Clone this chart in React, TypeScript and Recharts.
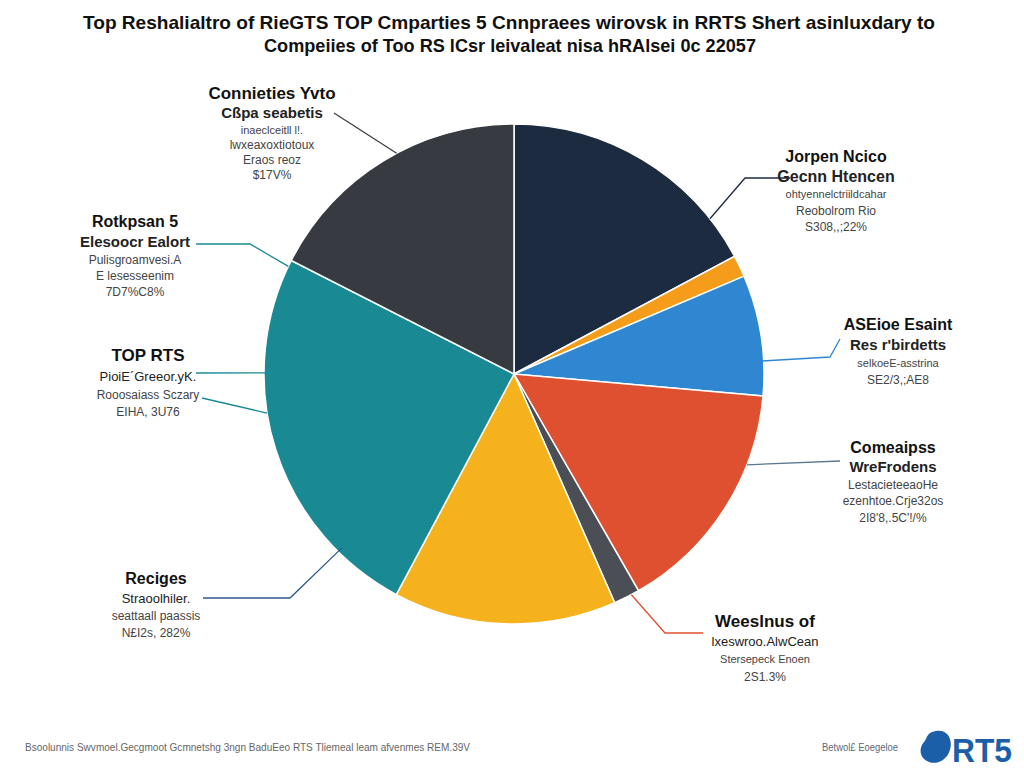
import React from "react";
import { PieChart, Pie, Cell } from "recharts";

// ---- data ----
const categories = [
  "Jorpen Ncico",
  "Orange",
  "ASEioe Esaint",
  "Comeaipss",
  "Weeslnus of",
  "Reciges",
  "TOP RTS",
  "Connieties Yvto",
];
const shares = [17.2, 1.4, 7.8, 15.3, 1.7, 14.4, 24.7, 17.5];
const colors = ["#1c2b40", "#f59c1a", "#2f86d1", "#df5030", "#4b4f55", "#f6b21c", "#198a93", "#373b41"];

const titleLines = [
  "Top Reshalialtro of RieGTS TOP Cmparties 5 Cnnpraees wirovsk in RRTS Shert asinluxdary to",
  "Compeiies of Too RS lCsr leivaleat nisa hRAlsei 0c 22057",
];
const footerLeft = "Bsoolunnis Swvmoel.Gecgmoot Gcmnetshg 3ngn BaduEeo RTS Tliemeal leam afvenmes REM.39V";
const footerRight = "Betwol£ Eoegeloe";

// annotation texts: [title, subtitle, ...small lines]
const annoTexts: Record<string, string[]> = {
  connieties: ["Connieties Yvto", "Cßpa seabetis", "inaeclceitll l!.", "lwxeaxoxtiotoux", "Eraos reoz", "$17V%"],
  jorpen: ["Jorpen Ncico", "Gecnn Htencen", "ohtyennelctriildcahar", "Reobolrom Rio", "S308,,;22%"],
  aseioe: ["ASEioe Esaint", "Res r'birdetts", "selkoeE-asstrina", "SE2/3,;AE8"],
  comeaipss: ["Comeaipss", "WreFrodens", "LestacieteeaoHe", "ezenhtoe.Crje32os", "2I8'8,.5C'!/%"],
  weeslnus: ["Weeslnus of", "lxeswroo.AlwCean", "Stersepeck Enoen", "2S1.3%"],
  reciges: ["Reciges", "Straoolhiler.", "seattaall paassis", "N£I2s, 282%"],
  toprts: ["TOP RTS", "PioiE´Greeor.yK.", "Rooosaiass Sczary", "EIHA, 3U76"],
  rotkpsan: ["Rotkpsan 5", "Elesoocr Ealort", "Pulisgroamvesi.A", "E lesesseenim", "7D7%C8%"],
};

// ---- layout (positions of annotation blocks & leader lines) ----
type Anno = {
  key: string;
  x: number;
  y: number;
  gaps: number[];
  sizes: number[];
  path: [number, number][];
  angle: number;
  rf: number;
  stroke: string;
};
const annoLayout: Record<number, Anno[]> = {
  7: [
    { key: "connieties", x: 272, y: 99, gaps: [0, 19, 16, 15, 15, 15], sizes: [17, 15, 11, 12, 12, 12], path: [[334, 113]], angle: 118, rf: 1.0, stroke: "#3b3f45" },
  ],
  0: [
    { key: "jorpen", x: 836, y: 162, gaps: [0, 20, 16, 17, 16], sizes: [16, 16, 11, 12, 12], path: [[790, 178], [745, 178]], angle: 38.4, rf: 1.0, stroke: "#1c2b40" },
  ],
  2: [
    { key: "aseioe", x: 898, y: 330, gaps: [0, 20, 17, 17], sizes: [16, 15, 11, 12], path: [[840, 339], [830, 357]], angle: 3, rf: 0.98, stroke: "#2f86d1" },
  ],
  3: [
    { key: "comeaipss", x: 893, y: 453, gaps: [0, 19, 17, 16, 17], sizes: [16, 15, 12, 12, 12], path: [[840, 461]], angle: -21.3, rf: 1.0, stroke: "#5a7890" },
  ],
  4: [
    { key: "weeslnus", x: 765, y: 627, gaps: [0, 19, 17, 18], sizes: [17, 13, 11, 12], path: [[703, 633], [665, 633]], angle: -62, rf: 1.0, stroke: "#df5030" },
  ],
  5: [
    { key: "reciges", x: 156, y: 584, gaps: [0, 19, 17, 17], sizes: [16, 13, 12, 12], path: [[203, 598], [290, 598]], angle: -134.7, rf: 0.98, stroke: "#2d5a8c" },
  ],
  6: [
    { key: "toprts", x: 148, y: 361, gaps: [0, 20, 18, 17], sizes: [17, 13, 12, 12], path: [[196, 373]], angle: 179.7, rf: 0.92, stroke: "#198a93" },
    { key: "rotkpsan", x: 135, y: 227, gaps: [0, 20, 17, 16, 16], sizes: [16, 15, 12, 12, 12], path: [[196, 244], [250, 244]], angle: 154.5, rf: 1.0, stroke: "#198a93" },
  ],
};
const extraLines: Record<number, { from: [number, number]; angle: number; rf: number; stroke: string }[]> = {
  6: [{ from: [202, 398], angle: 189, rf: 1.0, stroke: "#198a93" }],
};

const data = categories.map((name, i) => ({ name, value: shares[i] }));
const RAD = Math.PI / 180;
const FONT = "'Liberation Sans', Arial, sans-serif";

function polar(cx: number, cy: number, r: number, deg: number): [number, number] {
  return [cx + r * Math.cos(-deg * RAD), cy + r * Math.sin(-deg * RAD)];
}

function renderLabel(props: any) {
  const { cx, cy, outerRadius, index } = props;
  const annos = annoLayout[index] || [];
  const extras = extraLines[index] || [];
  return (
    <g key={`lab-${index}`}>
      {annos.map((a) => {
        const end = polar(cx, cy, outerRadius * a.rf, a.angle);
        const pts = [...a.path, end].map((p) => p.join(",")).join(" ");
        const lines = annoTexts[a.key];
        let yy = a.y;
        return (
          <g key={a.key}>
            <polyline points={pts} fill="none" stroke={a.stroke} strokeWidth={1.3} />
            {lines.map((t, j) => {
              yy += a.gaps[j];
              return (
                <text
                  key={j}
                  x={a.x}
                  y={yy}
                  textAnchor="middle"
                  fontFamily={FONT}
                  fontSize={a.sizes[j]}
                  fontWeight={j === 0 || (j === 1 && a.sizes[1] >= 15) ? 700 : 400}
                  fill={j === 0 ? "#111" : j === 1 ? "#222" : "#444"}
                >
                  {t}
                </text>
              );
            })}
          </g>
        );
      })}
      {extras.map((e, k) => {
        const end = polar(cx, cy, outerRadius * e.rf, e.angle);
        return (
          <polyline key={`ex-${k}`} points={`${e.from.join(",")} ${end.join(",")}`} fill="none" stroke={e.stroke} strokeWidth={1.3} />
        );
      })}
    </g>
  );
}

export default function App() {
  return (
    <div style={{ position: "absolute", left: 0, top: 0, width: 1024, height: 768, background: "#fff" }}>
      <style>{"body{margin:0}"}</style>
      <svg width={1024} height={768} style={{ position: "absolute", left: 0, top: 0 }}>
        <text x={509} y={29} textAnchor="middle" fontFamily={FONT} fontWeight={700} fontSize={19} textLength={852} lengthAdjust="spacingAndGlyphs" fill="#111">
          {titleLines[0]}
        </text>
        <text x={510} y={52} textAnchor="middle" fontFamily={FONT} fontWeight={700} fontSize={19} textLength={492} lengthAdjust="spacingAndGlyphs" fill="#111">
          {titleLines[1]}
        </text>
        <text x={25} y={751} fontFamily={FONT} fontSize={11} textLength={445} lengthAdjust="spacingAndGlyphs" fill="#666">
          {footerLeft}
        </text>
        <text x={822} y={751} fontFamily={FONT} fontSize={11} textLength={76} lengthAdjust="spacingAndGlyphs" fill="#5a6a80">
          {footerRight}
        </text>
        <path d="M936,731 C948,729 953,740 950,750 C947,760 937,765 929,762 C920,759 918,749 924,742 C928,737 926,733 936,731 Z" fill="#1a5fa8" />
        <text x={952} y={762} fontFamily={FONT} fontWeight={700} fontSize={34} textLength={60} lengthAdjust="spacingAndGlyphs" fill="#1a5fa8">
          RT5
        </text>
      </svg>
      <div style={{ position: "absolute", left: 0, top: 0 }}>
        <PieChart width={1024} height={768}>
          <Pie
            data={data}
            dataKey="value"
            nameKey="name"
            cx={509}
            cy={369}
            outerRadius={250}
            startAngle={90}
            endAngle={-270}
            stroke="#ffffff"
            strokeWidth={1.5}
            labelLine={false}
            label={renderLabel}
            isAnimationActive={false}
          >
            {data.map((d, i) => (
              <Cell key={d.name} fill={colors[i]} />
            ))}
          </Pie>
        </PieChart>
      </div>
    </div>
  );
}
